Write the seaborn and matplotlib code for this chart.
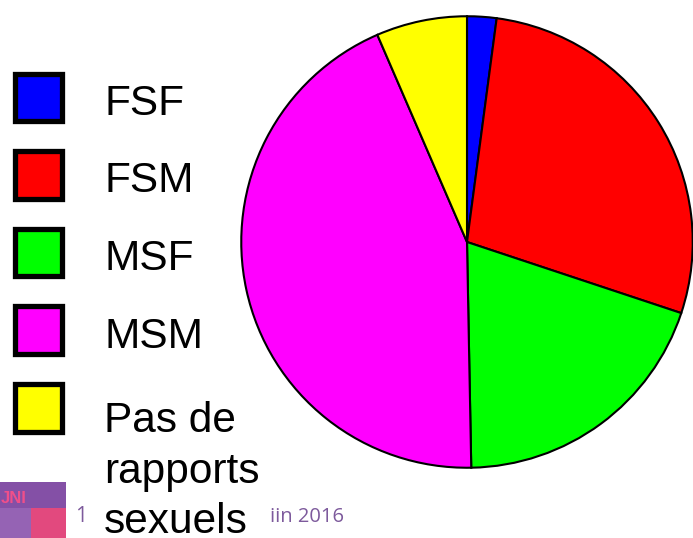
import matplotlib
matplotlib.use("Agg")
import matplotlib.pyplot as plt
from matplotlib.patches import Rectangle
import seaborn as sns

# chart data (shares)
categories = ["FSF", "FSM", "MSF", "MSM", "Pas de\nrapports\nsexuels"]
shares = [2.1, 28.0, 19.6, 43.8, 6.5]
colors = ["#0000ff", "#ff0000", "#00ff00", "#ff00ff", "#ffff00"]
footer_page = "1"
footer_date = "iin 2016"

sns.set_style("white")
plt.rcParams["font.family"] = ["Liberation Sans", "DejaVu Sans"]

W, H = 693, 538
fig = plt.figure(figsize=(W / 100, H / 100), dpi=100)

# pie axes: center (467, 242) px, radius 228 px
cx, cy, r = 467, 242, 228
pie_ax = fig.add_axes([(cx - r) / W, (H - cy - r) / H, 2 * r / W, 2 * r / H])
pie_ax.pie(shares, colors=colors, startangle=90, counterclock=False, radius=1,
           wedgeprops={"edgecolor": "black", "linewidth": 1.5})
pie_ax.set_xlim(-1.01, 1.01)
pie_ax.set_ylim(-1.01, 1.01)
pie_ax.set_aspect("equal")
pie_ax.axis("off")

# overlay in pixel coords for legend and footer
ov = fig.add_axes([0, 0, 1, 1])
ov.set_xlim(0, W)
ov.set_ylim(H, 0)
ov.axis("off")
ov.patch.set_alpha(0)

for i, (lab, col) in enumerate(zip(categories, colors)):
    top = 73.5 + 77.6 * i
    ov.add_patch(Rectangle((14.5, top), 47.7, 47.7, facecolor=col,
                           edgecolor="black", linewidth=3.8))
    lines = lab.split("\n")
    base = 115 + 77.5 * i + (7 if len(lines) > 1 else 0)
    for j, line in enumerate(lines):
        ov.text(104, base + j * 50.5, line, fontsize=30.5, va="baseline",
                ha="left", color="black")

# logo block bottom-left
ov.add_patch(Rectangle((0, 482), 66, 26, facecolor="#8450a6", edgecolor="none"))
ov.add_patch(Rectangle((0, 508), 31, 30, facecolor="#9563b4", edgecolor="none"))
ov.add_patch(Rectangle((31, 508), 35, 30, facecolor="#e2497e", edgecolor="none"))
ov.text(1, 503, "JNI", fontsize=12, color="#ef4f8a", fontweight="bold", va="baseline")

ov.text(75, 522, footer_page, fontsize=15, color="#7d5a9c", va="baseline",
        family=["Open Sans", "DejaVu Sans"])
ov.text(270, 522, footer_date, fontsize=14.5, color="#7d5a9c", va="baseline",
        family=["Open Sans", "DejaVu Sans"])

fig.savefig("out.png", dpi=100)
